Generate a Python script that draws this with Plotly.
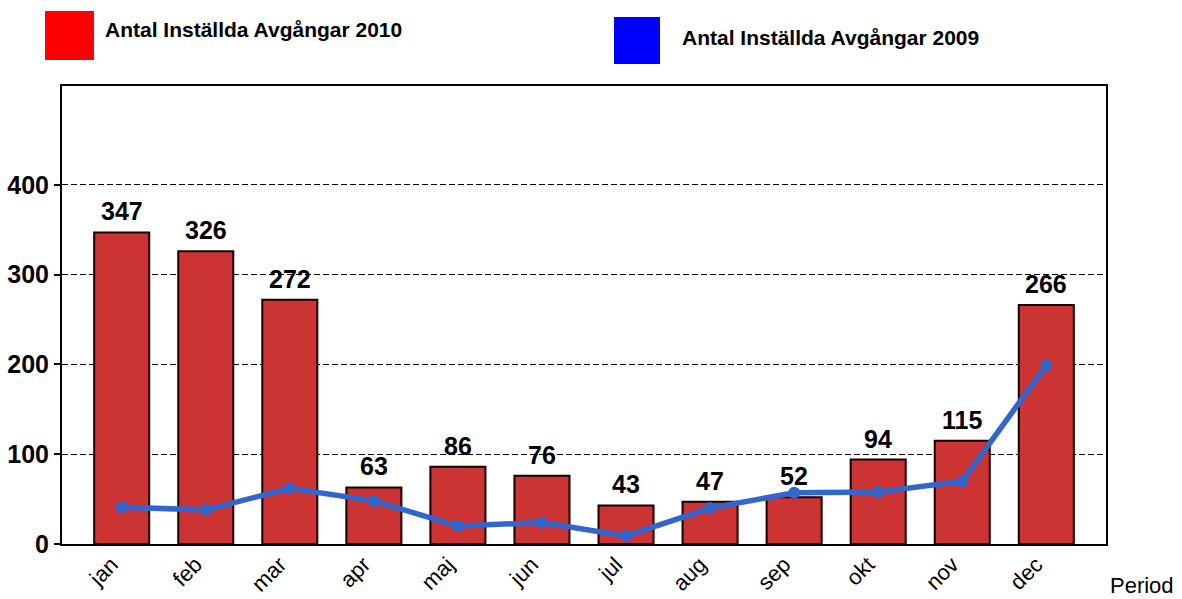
import plotly.graph_objects as go

months = ["jan", "feb", "mar", "apr", "maj", "jun", "jul", "aug", "sep", "okt", "nov", "dec"]
values_2010 = [347, 326, 272, 63, 86, 76, 43, 47, 52, 94, 115, 266]
values_2009 = [41, 38, 62, 48, 20, 24, 9, 40, 57, 58, 70, 199]
y_ticks = [0, 100, 200, 300, 400]
label_2010 = "Antal Inställda Avgångar 2010"
label_2009 = "Antal Inställda Avgångar 2009"

FONT = "Arial, Liberation Sans, sans-serif"

fig = go.Figure()
fig.add_trace(go.Bar(
    x=months, y=values_2010, name=label_2010,
    marker=dict(color="#CC3333", line=dict(color="#140000", width=2)),
))
fig.add_trace(go.Scatter(
    x=months, y=values_2009, name=label_2009, mode="lines+markers",
    line=dict(color="#3366CC", width=5.5),
    marker=dict(color="#3366CC", size=12),
))

W, H = 1182, 599
L, R, T, B = 62, 76, 86, 55
pw, ph = W - L - R, H - T - B

def px(x):
    return (x - L) / pw

def py(y):
    return (H - B - y) / ph

bar_labels = [
    dict(text=str(v), x=m, y=v, xref="x", yref="y", xanchor="center", yanchor="bottom",
         yshift=5, showarrow=False,
         font=dict(family=FONT, size=25, color="black", weight="bold"))
    for m, v in zip(months, values_2010)
]

fig.update_layout(
    width=W, height=H,
    margin=dict(l=L, r=R, t=T, b=B, autoexpand=False),
    paper_bgcolor="white", plot_bgcolor="white",
    showlegend=False, bargap=0.345,
    font=dict(family=FONT, color="black"),
    xaxis=dict(
        type="category", showline=True, mirror=True, linecolor="black", linewidth=2,
        ticks="", tickangle=-45, tickfont=dict(family=FONT, size=22, color="black"),
        showgrid=False, automargin=False, ticklabelshift=-10, ticklabelstandoff=-3,
    ),
    yaxis=dict(
        range=[0, 510], tickvals=y_ticks, showline=True, mirror=True,
        linecolor="black", linewidth=2, ticks="outside", ticklen=6, tickwidth=1.5,
        tickcolor="black", tickfont=dict(family=FONT, size=25, color="black", weight="bold"),
        showgrid=True, gridcolor="black", gridwidth=1, griddash="6px,3px", zeroline=False,
        automargin=False,
    ),
    shapes=[
        dict(type="rect", xref="paper", yref="paper",
             x0=px(45), x1=px(94), y0=py(60), y1=py(11),
             fillcolor="#FF0000", line=dict(width=0)),
        dict(type="rect", xref="paper", yref="paper",
             x0=px(614), x1=px(660), y0=py(64), y1=py(17),
             fillcolor="#0000FF", line=dict(width=0)),
    ],
    annotations=bar_labels + [
        dict(text=label_2010, xref="paper", yref="paper", x=px(103), y=py(30),
             xanchor="left", yanchor="middle", showarrow=False,
             font=dict(family=FONT, size=21, color="black", weight="bold")),
        dict(text=label_2009, xref="paper", yref="paper", x=px(680), y=py(37),
             xanchor="left", yanchor="middle", showarrow=False,
             font=dict(family=FONT, size=21, color="black", weight="bold")),
        dict(text="Period", xref="paper", yref="paper", x=px(1108), y=py(585),
             xanchor="left", yanchor="middle", showarrow=False,
             font=dict(family=FONT, size=22, color="black")),
    ],
)

fig.write_html(
    "out.html",
    config={"displayModeBar": False},
    post_script=(
        "document.body.style.margin='0';"
        "document.body.style.overflow='hidden';"
        "document.documentElement.style.overflow='hidden';"
    ),
)
